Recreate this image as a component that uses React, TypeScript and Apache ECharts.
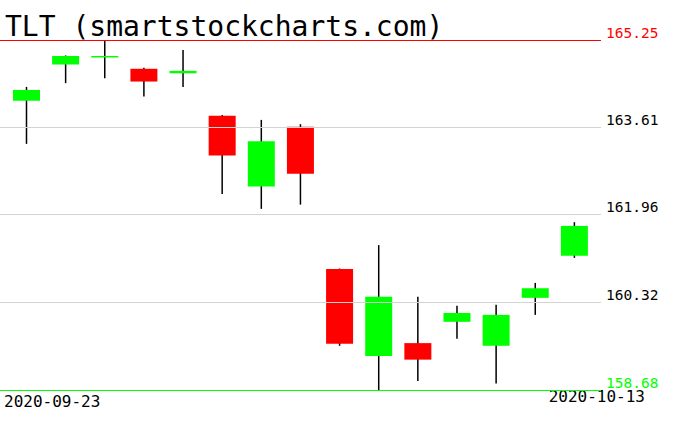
import React, { useEffect, useRef } from "react";
import * as echarts from "echarts";

const dates = [
  "2020-09-23", "2020-09-24", "2020-09-25", "2020-09-28", "2020-09-29",
  "2020-09-30", "2020-10-01", "2020-10-02", "2020-10-05", "2020-10-06",
  "2020-10-07", "2020-10-08", "2020-10-09", "2020-10-12", "2020-10-13",
];
const opens = [164.11, 164.79, 164.94, 164.71, 164.625, 163.83, 162.5, 163.62, 160.95, 159.32, 159.56, 159.96, 159.51, 160.41, 161.2];
const closes = [164.31, 164.95, 164.95, 164.47, 164.67, 163.08, 163.35, 162.74, 159.55, 160.43, 159.25, 160.125, 160.09, 160.59, 161.76];
const lows = [163.3, 164.44, 164.53, 164.19, 164.37, 162.36, 162.08, 162.16, 159.51, 158.68, 158.85, 159.64, 158.8, 160.09, 161.16];
const highs = [164.37, 164.96, 165.25, 164.73, 165.06, 163.84, 163.75, 163.67, 160.96, 161.4, 160.43, 160.26, 160.28, 160.69, 161.83];

const tickValues = [158.68, 160.3225, 161.965, 163.6075, 165.25];
const tickLabels = ["158.68", "160.32", "161.96", "163.61", "165.25"];
const title = "TLT (smartstockcharts.com)";

const UP = "#00ff00";
const DOWN = "#ff0000";
const lineColors = [UP, "#d3d3d3", "#d3d3d3", "#d3d3d3", DOWN];
const labelColors = [UP, "#000000", "#000000", "#000000", DOWN];
const FONT = "'DejaVu Sans Mono', monospace";

export default function App() {
  const ref = useRef<HTMLDivElement>(null);
  useEffect(() => {
    if (!ref.current) return;
    const chart = echarts.init(ref.current, null, { renderer: "svg" });
    const data = dates.map((_, i) => [i, opens[i], closes[i], lows[i], highs[i]]);
    chart.setOption({
      animation: false,
      backgroundColor: "#ffffff",
      grid: { left: 0, right: 75, top: 40, bottom: 41 },
      xAxis: { type: "value", min: -0.677, max: 14.68, show: false },
      yAxis: { type: "value", min: tickValues[0], max: tickValues[4], show: false },
      graphic: [
        {
          type: "text", left: 5, top: 12,
          style: { text: title, fill: "#000", font: `28px ${FONT}` },
        },
        {
          type: "text", left: 4, top: 393,
          style: { text: dates[0], fill: "#000", font: `16px ${FONT}` },
        },
        {
          type: "text", right: 31, top: 388,
          style: { text: dates[dates.length - 1], fill: "#000", font: `16px ${FONT}` },
        },
      ],
      series: [
        {
          type: "line",
          data: [],
          silent: true,
          markLine: {
            silent: true,
            symbol: ["none", "none"],
            animation: false,
            data: tickValues.map((v, i) => ({
              yAxis: v,
              lineStyle: { color: lineColors[i], width: 1, type: "solid" },
              label: {
                show: true,
                position: "end",
                distance: 5,
                formatter: tickLabels[i],
                color: labelColors[i],
                fontFamily: "DejaVu Sans Mono",
                fontSize: 14.5,
                verticalAlign: "bottom",
              },
            })),
          },
        },
        {
          type: "custom",
          data,
          encode: { x: 0, y: [1, 2, 3, 4] },
          renderItem: (params: any, api: any) => {
            const x = api.value(0);
            const o = api.value(1);
            const c = api.value(2);
            const po = api.coord([x, o]);
            const pc = api.coord([x, c]);
            const pl = api.coord([x, api.value(3)]);
            const ph = api.coord([x, api.value(4)]);
            const w = api.size([1, 0])[0] * 0.69;
            const top = Math.min(po[1], pc[1]);
            const h = Math.max(Math.abs(po[1] - pc[1]), 1.5);
            return {
              type: "group",
              children: [
                {
                  type: "line",
                  shape: { x1: ph[0], y1: ph[1], x2: pl[0], y2: pl[1] },
                  style: { stroke: "#000", lineWidth: 1.5 },
                },
                {
                  type: "rect",
                  shape: { x: po[0] - w / 2, y: top, width: w, height: h },
                  style: { fill: c >= o ? UP : DOWN },
                },
              ],
            };
          },
        },
      ],
    });
    return () => chart.dispose();
  }, []);
  return (
    <div
      ref={ref}
      style={{ position: "fixed", left: 0, top: 0, width: 676, height: 431, background: "#fff" }}
    />
  );
}
